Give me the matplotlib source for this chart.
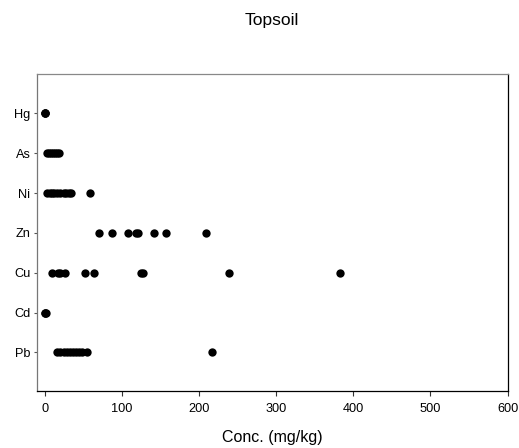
import matplotlib
matplotlib.use("Agg")
import matplotlib.pyplot as plt

plt.rcParams["font.family"] = ["Liberation Sans", "DejaVu Sans"]

# Element categories, bottom to top
elements = ["Pb", "Cd", "Cu", "Zn", "Ni", "As", "Hg"]

# Concentrations (mg/kg)
pb = [15, 20, 24, 28, 32, 36, 40, 44, 48, 55, 216]
cd = [0.2, 0.5, 1.0]
cu = [9, 17, 20, 26, 52, 63, 124, 127, 239, 382]
zn = [70, 87, 107, 118, 121, 142, 157, 209]
ni = [3, 6, 9, 12, 16, 20, 24, 27, 31, 34, 58]
as_ = [3, 5, 8, 10, 13, 15, 18]
hg = [0.1, 0.3, 0.5]

series = [pb, cd, cu, zn, ni, as_, hg]
x_ticks = [0, 100, 200, 300, 400, 500, 600]

fig = plt.figure(figsize=(5.19, 4.48), dpi=100)
ax = fig.add_axes([0.0707, 0.127, 0.9073, 0.708])

for i, vals in enumerate(series):
    ax.scatter(vals, [i + 1] * len(vals), s=36, color="black", linewidths=0, zorder=3)

ax.set_xlim(-10.8, 600)
ax.set_ylim(0.03, 7.99)
ax.set_xticks(x_ticks)
ax.set_yticks(range(1, len(elements) + 1))
ax.set_yticklabels(elements)

ax.tick_params(axis="x", length=3.5, width=0.8, labelsize=9.2, pad=5, color="#333333")
ax.tick_params(axis="y", length=2.5, width=0.8, labelsize=9.2, pad=2, color="#555555")

ax.spines["left"].set_color("#777777")
ax.spines["top"].set_color("#888888")
ax.spines["right"].set_color("black")
ax.spines["bottom"].set_color("black")
for s in ax.spines.values():
    s.set_linewidth(0.9)

ax.set_xlabel("Conc. (mg/kg)", fontsize=11.5, labelpad=11)
ax.set_title("Topsoil", fontsize=12.5, pad=35)

fig.savefig("out.png", dpi=100)
